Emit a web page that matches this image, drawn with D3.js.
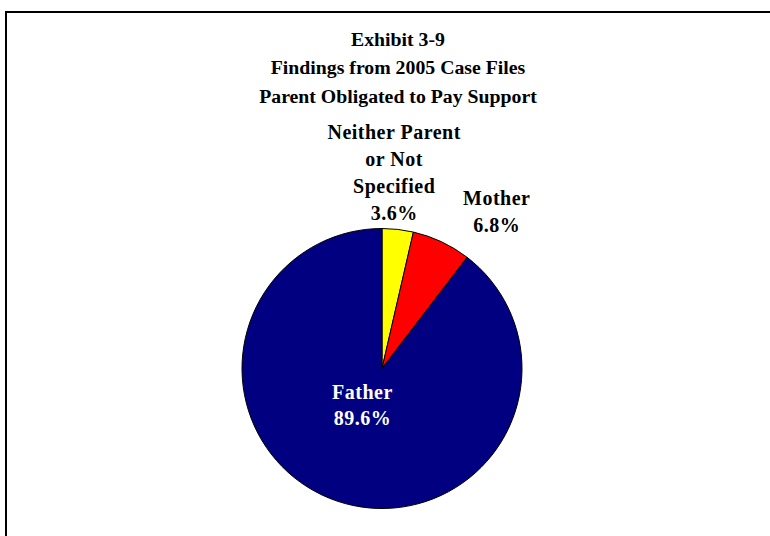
<!DOCTYPE html>
<html>
<head>
<meta charset="utf-8">
<script src="https://cdn.jsdelivr.net/npm/d3@7"></script>
<style>
  html, body { margin: 0; padding: 0; background: #fff; }
  svg { display: block; }
  text { font-family: "Liberation Serif", "Times New Roman", serif; font-weight: bold; }
</style>
</head>
<body>
<svg id="chart" width="770" height="536"></svg>
<script>
// Chart content
const titleLines = ["Exhibit 3-9", "Findings from 2005 Case Files", "Parent Obligated to Pay Support"];
const categories = ["Neither Parent or Not Specified", "Mother", "Father"];
const labelLines = [["Neither Parent", "or Not", "Specified"], ["Mother"], ["Father"]];
const values = [3.6, 6.8, 89.6];
const colors = ["#FFFF00", "#FF0000", "#000080"];

const svg = d3.select("#chart");

// Frame around the chart area (runs off the right and bottom edges)
svg.append("rect")
  .attr("x", 6).attr("y", 12)
  .attr("width", 820).attr("height", 600)
  .attr("fill", "#fff")
  .attr("stroke", "#000").attr("stroke-width", 2);

// Title
const titleX = 398;
svg.append("g").selectAll("text")
  .data(titleLines)
  .join("text")
  .attr("x", titleX)
  .attr("y", (d, i) => 46 + i * 28.3)
  .attr("text-anchor", "middle")
  .attr("font-size", 19.8)
  .attr("fill", "#000")
  .text(d => d);

// Pie
const cx = 382, cy = 368.5, r = 140;
const data = categories.map((c, i) => ({ category: c, value: values[i], color: colors[i], lines: labelLines[i] }));
const pie = d3.pie().sort(null).value(d => d.value);
const arcs = pie(data);
const arc = d3.arc().innerRadius(0).outerRadius(r);

const g = svg.append("g").attr("transform", `translate(${cx},${cy})`);
g.selectAll("path")
  .data(arcs)
  .join("path")
  .attr("d", arc)
  .attr("fill", d => d.data.color)
  .attr("stroke", "#000")
  .attr("stroke-width", 1)
  .attr("stroke-linejoin", "round");

// Label placement: small slices get their labels outside the rim
// (anchored on the last line), the large slice gets its label inside
// (anchored on the first line).
const outerArc = d3.arc().innerRadius(r + 12).outerRadius(r + 12);
const innerArc = d3.arc().innerRadius(r * 0.28).outerRadius(r * 0.28);
const labelNudge = [[-5, 3], [50, 1.5], [-7, -6.5]];
const fmt = v => d3.format(".1f")(v) + "%";

arcs.forEach((a, i) => {
  const lines = a.data.lines.concat([fmt(a.data.value)]);
  const inside = a.data.value > 50;
  const lineH = inside ? 25.5 : 27.3;
  let x, yFirst;
  if (inside) {
    const [px, py] = innerArc.centroid(a);
    x = px + labelNudge[i][0];
    yFirst = py + labelNudge[i][1];
  } else {
    const [px, py] = outerArc.centroid(a);
    x = px + labelNudge[i][0];
    yFirst = py + labelNudge[i][1] - (lines.length - 1) * lineH;
  }
  const t = g.append("text")
    .attr("text-anchor", "middle")
    .attr("font-size", 20)
    .attr("letter-spacing", 0.5)
    .attr("fill", inside ? "#fff" : "#000");
  lines.forEach((ln, k) => {
    t.append("tspan")
      .attr("x", x)
      .attr("y", yFirst + k * lineH)
      .text(ln);
  });
});
</script>
</body>
</html>
